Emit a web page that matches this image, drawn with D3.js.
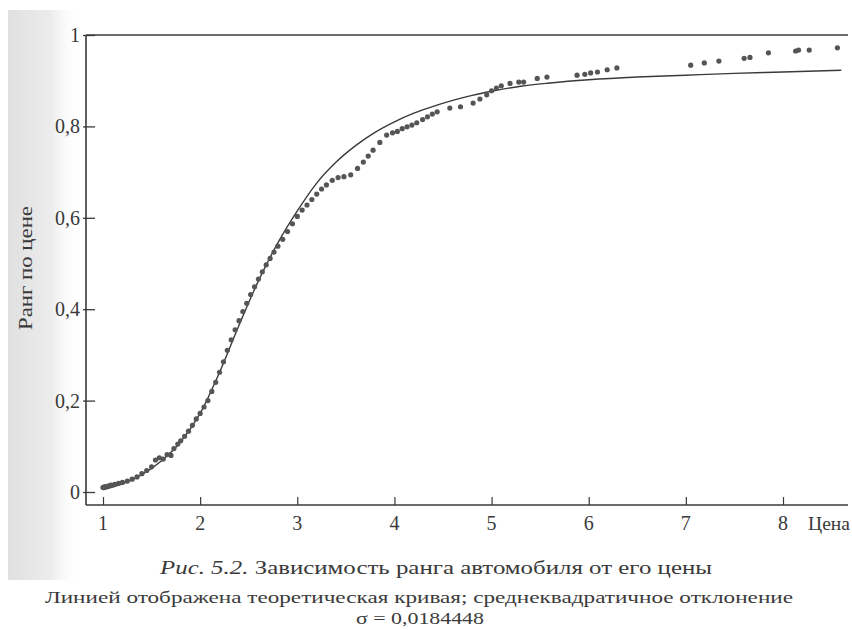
<!DOCTYPE html>
<html>
<head>
<meta charset="utf-8">
<script src="https://cdn.jsdelivr.net/npm/d3@7"></script>
<style>
  body { margin: 0; background: #fff; }
  svg { display: block; }
  svg text { font-family: "Liberation Serif", "DejaVu Serif", "Times New Roman", serif; }
</style>
</head>
<body>
<svg id="chart" width="852" height="630"></svg>
<script>
// цена (x) и ранг по цене (y) — наблюдаемые точки
const priceX = [
  1.00, 1.02, 1.05, 1.08, 1.12, 1.16, 1.20, 1.25, 1.30, 1.35,
  1.40, 1.45, 1.50, 1.54, 1.58, 1.62, 1.66, 1.70, 1.73, 1.77,
  1.80, 1.84, 1.88, 1.92, 1.96, 2.00, 2.04, 2.08, 2.12, 2.16,
  2.20, 2.24, 2.28, 2.32, 2.36, 2.40, 2.44, 2.48, 2.52, 2.56,
  2.60, 2.64, 2.68, 2.72, 2.76, 2.80, 2.85, 2.90, 2.95, 3.00,
  3.05, 3.10, 3.15, 3.20, 3.25, 3.30, 3.36, 3.42, 3.48, 3.55,
  3.62, 3.68, 3.73, 3.78, 3.85, 3.92, 3.98, 4.03, 4.08, 4.13,
  4.18, 4.23, 4.29, 4.34, 4.39, 4.44, 4.57, 4.68, 4.81, 4.88,
  4.95, 5.00, 5.05, 5.10, 5.19, 5.28, 5.33, 5.47, 5.57, 5.88,
  5.96, 6.02, 6.09, 6.19, 6.29, 7.05, 7.19, 7.34, 7.60, 7.66,
  7.85, 8.13, 8.16, 8.27, 8.56
];
const rankY = [
  0.010, 0.012, 0.013, 0.015, 0.017, 0.019, 0.021, 0.024, 0.028, 0.033,
  0.040, 0.047, 0.055, 0.070, 0.075, 0.072, 0.082, 0.080, 0.095, 0.105,
  0.112, 0.122, 0.133, 0.146, 0.160, 0.172, 0.186, 0.200, 0.220, 0.240,
  0.262, 0.285, 0.310, 0.333, 0.355, 0.375, 0.395, 0.413, 0.432, 0.449,
  0.466, 0.482, 0.497, 0.511, 0.525, 0.538, 0.553, 0.570, 0.587, 0.603,
  0.617, 0.628, 0.640, 0.652, 0.663, 0.672, 0.682, 0.688, 0.690, 0.694,
  0.708, 0.722, 0.735, 0.748, 0.765, 0.781, 0.786, 0.789, 0.795, 0.799,
  0.803, 0.808, 0.815, 0.821, 0.827, 0.832, 0.840, 0.843, 0.851, 0.860,
  0.869, 0.878, 0.884, 0.889, 0.894, 0.897, 0.897, 0.905, 0.908, 0.912,
  0.914, 0.917, 0.919, 0.924, 0.928, 0.934, 0.939, 0.943, 0.949, 0.951,
  0.961, 0.965, 0.967, 0.967, 0.972
];
// теоретическая кривая
const curveX = [1.0, 1.2, 1.4, 1.6, 1.8, 2.0, 2.2, 2.4, 2.6, 2.8, 3.0, 3.2, 3.4, 3.6, 3.8,
  4.0, 4.2, 4.4, 4.6, 4.8, 5.0, 5.3, 5.6, 6.0, 6.5, 7.0, 7.5, 8.0, 8.6];
const curveY = [0.005, 0.018, 0.038, 0.068, 0.110, 0.172, 0.262, 0.365, 0.462, 0.545, 0.615,
  0.676, 0.722, 0.758, 0.787, 0.810, 0.829, 0.844, 0.857, 0.868, 0.877, 0.888, 0.895,
  0.902, 0.908, 0.912, 0.916, 0.919, 0.923];
const xTicks = [1, 2, 3, 4, 5, 6, 7, 8];
const yTicks = [0, 0.2, 0.4, 0.6, 0.8, 1];

const ink = "#3a3a3a";
const svg = d3.select("#chart");

// серая полоса скана слева
const defs = svg.append("defs");
const grad = defs.append("linearGradient").attr("id", "scan").attr("x1", 0).attr("x2", 1);
grad.append("stop").attr("offset", 0).attr("stop-color", "#e0e0e0");
grad.append("stop").attr("offset", 0.6).attr("stop-color", "#ececec");
grad.append("stop").attr("offset", 1).attr("stop-color", "#fff").attr("stop-opacity", 0);
svg.append("rect").attr("x", 8).attr("y", 10).attr("width", 72).attr("height", 570)
  .attr("fill", "url(#scan)");

const x = d3.scaleLinear().domain([1, 8]).range([103, 783]);
const y = d3.scaleLinear().domain([0, 1]).range([492, 35]);
const plotL = 86, plotR = 848, plotB = 505, plotT = 35;

const axes = svg.append("g").attr("stroke", ink).attr("fill", "none");
axes.append("line").attr("x1", plotL).attr("x2", plotL).attr("y1", plotT).attr("y2", plotB).attr("stroke-width", 1.6);
axes.append("line").attr("x1", plotL).attr("x2", plotR).attr("y1", plotB).attr("y2", plotB).attr("stroke-width", 1.6);
axes.append("line").attr("x1", plotL).attr("x2", plotR).attr("y1", plotT).attr("y2", plotT).attr("stroke-width", 1.6);

// ось Y
const yAxis = svg.append("g")
  .attr("transform", `translate(${plotL + 9},0)`)
  .call(d3.axisLeft(y).tickValues(yTicks).tickSize(12).tickPadding(5)
    .tickFormat(d => d === 0 || d === 1 ? String(d) : String(d).replace(".", ",")));
yAxis.select(".domain").remove();
yAxis.selectAll(".tick line").attr("stroke", ink).attr("stroke-width", 1.3);
yAxis.selectAll(".tick text").attr("fill", ink).attr("font-family", null).attr("font-size", 20).attr("dx", 2);

// ось X
const xAxis = svg.append("g")
  .attr("transform", `translate(0,${plotB})`)
  .call(d3.axisTop(x).tickValues(xTicks).tickSize(8).tickFormat(""));
xAxis.select(".domain").remove();
xAxis.selectAll(".tick line").attr("stroke", ink).attr("stroke-width", 1.2);
svg.append("g").selectAll("text").data(xTicks).join("text")
  .attr("x", d => x(d)).attr("y", 530)
  .attr("text-anchor", "middle")
  .attr("fill", ink).attr("font-size", 20)
  .text(d => d);

svg.append("text").attr("x", 808).attr("y", 530)
  .attr("fill", ink).attr("font-size", 18)
  .attr("textLength", 42).attr("lengthAdjust", "spacingAndGlyphs").text("Цена");

svg.append("text")
  .attr("transform", "translate(32,268) rotate(-90)")
  .attr("text-anchor", "middle")
  .attr("fill", ink).attr("font-size", 18)
  .attr("textLength", 124).attr("lengthAdjust", "spacingAndGlyphs")
  .text("Ранг по цене");

// теоретическая кривая
const line = d3.line().x(d => x(d[0])).y(d => y(d[1])).curve(d3.curveMonotoneX);
svg.append("path")
  .datum(d3.zip(curveX, curveY))
  .attr("d", line)
  .attr("fill", "none").attr("stroke", ink).attr("stroke-width", 1.4);

// точки
svg.append("g").attr("fill", "#555")
  .selectAll("circle").data(d3.zip(priceX, rankY)).join("circle")
  .attr("cx", d => x(d[0])).attr("cy", d => y(d[1])).attr("r", 2.6);

// подпись
const cap = svg.append("text").attr("x", 436).attr("y", 574)
  .attr("text-anchor", "middle").attr("fill", ink).attr("font-size", 19)
  .attr("textLength", 552).attr("lengthAdjust", "spacingAndGlyphs");
cap.append("tspan").attr("font-style", "italic").text("Рис. 5.2. ");
cap.append("tspan").text("Зависимость ранга автомобиля от его цены");

svg.append("text").attr("x", 419).attr("y", 603)
  .attr("text-anchor", "middle").attr("fill", ink).attr("font-size", 16)
  .attr("textLength", 748).attr("lengthAdjust", "spacingAndGlyphs")
  .text("Линией отображена теоретическая кривая; среднеквадратичное отклонение");
svg.append("text").attr("x", 420).attr("y", 624)
  .attr("text-anchor", "middle").attr("fill", ink).attr("font-size", 16)
  .attr("textLength", 128).attr("lengthAdjust", "spacingAndGlyphs")
  .text("σ = 0,0184448");
</script>
</body>
</html>
